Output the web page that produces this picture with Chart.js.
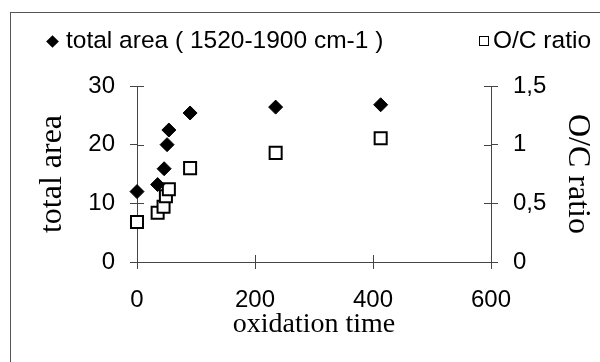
<!DOCTYPE html>
<html lang="en">
<head>
    <meta charset="UTF-8" />
    <title>Total area and O/C ratio vs oxidation time</title>
    <script src="https://cdn.jsdelivr.net/npm/chart.js@4.4.1/dist/chart.umd.min.js"></script>
    <style>
        html, body { margin: 0; padding: 0; background: #fff; }
        #wrap { position: relative; width: 600px; height: 362px; overflow: hidden; }
        #frame {
            position: absolute; left: 10px; top: 12px; right: -2px; bottom: -2px;
            border-left: 1px solid #555; border-top: 1px solid #555;
        }
        #legend {
            position: absolute; left: 0; top: 0; width: 600px; height: 60px;
            font-family: "Liberation Sans", Arial, sans-serif; font-size: 24px; color: #000;
        }
        .legend-text { position: absolute; top: 26px; line-height: 28px; white-space: nowrap; }
        .legend-mark { position: absolute; box-sizing: border-box; }
        #chartBox { position: absolute; left: 0; top: 0; width: 600px; height: 362px; }
    </style>
</head>
<body>
    <div id="wrap">
        <div id="frame"></div>
        <div id="chartBox"><canvas id="chart"></canvas></div>
        <div id="legend"></div>
    </div>
    <script>
        // vrijednosti ocitane sa slike
        const areaTimes = [0, 35, 46, 51, 54, 90, 235, 413];
        const areaValues = [12.0, 13.2, 15.9, 20.0, 22.5, 25.4, 26.4, 26.8];
        const ratioTimes = [0, 35, 45, 49, 54, 90, 235, 413];
        const ratioValues = [0.34, 0.42, 0.47, 0.56, 0.62, 0.80, 0.93, 1.055];

        const seriesLabels = ['total area ( 1520-1900 cm-1 )', 'O/C ratio'];
        const xTitle = 'oxidation time';
        const areaTitle = 'total area';
        const ratioTitle = 'O/C ratio';

        const xTickLabels = ['0', '200', '400', '600'];
        const areaTickLabels = ['0', '10', '20', '30'];
        const ratioTickLabels = ['0', '0,5', '1', '1,5'];

        const axisColor = '#444';
        const sansFont = '"Liberation Sans", Arial, sans-serif';
        const serifFont = '"Liberation Serif", "Times New Roman", serif';

        Chart.defaults.font.family = sansFont;
        Chart.defaults.color = '#000';

        // crtice s unutarnje strane osi (kao u Excelu, "cross")
        const innerTicks = {
            id: 'innerTicks',
            beforeDatasetsDraw(chart) {
                const ctx = chart.ctx;
                const a = chart.chartArea;
                const len = 7;
                ctx.save();
                ctx.strokeStyle = axisColor;
                ctx.lineWidth = 1;
                ctx.beginPath();
                const sx = chart.scales.x;
                sx.ticks.forEach((t, i) => {
                    const p = Math.round(sx.getPixelForTick(i)) + 0.5;
                    ctx.moveTo(p, a.bottom);
                    ctx.lineTo(p, a.bottom - len);
                });
                const sl = chart.scales.yArea;
                sl.ticks.forEach((t, i) => {
                    const p = Math.round(sl.getPixelForTick(i)) + 0.5;
                    ctx.moveTo(a.left, p);
                    ctx.lineTo(a.left + len, p);
                });
                const sr = chart.scales.yRatio;
                sr.ticks.forEach((t, i) => {
                    const p = Math.round(sr.getPixelForTick(i)) + 0.5;
                    ctx.moveTo(a.right, p);
                    ctx.lineTo(a.right - len, p);
                });
                ctx.stroke();
                ctx.restore();
            }
        };

        const toPoints = (xs, ys) => xs.map((x, i) => ({x: x, y: ys[i]}));

        const axisGrid = {
            display: true,
            drawOnChartArea: false,
            drawTicks: true,
            tickLength: 7,
            color: axisColor,
            lineWidth: 1
        };
        const axisBorder = { display: true, color: axisColor, width: 1 };

        const chart = new Chart(document.getElementById('chart'), {
            type: 'scatter',
            data: {
                datasets: [
                    {
                        label: seriesLabels[0],
                        data: toPoints(areaTimes, areaValues),
                        yAxisID: 'yArea',
                        pointStyle: 'rectRot',
                        pointRadius: 7,
                        backgroundColor: '#000',
                        borderColor: '#000',
                        borderWidth: 1,
                        clip: false
                    },
                    {
                        label: seriesLabels[1],
                        data: toPoints(ratioTimes, ratioValues),
                        yAxisID: 'yRatio',
                        pointStyle: 'rect',
                        pointRadius: 8.5,
                        backgroundColor: '#fff',
                        borderColor: '#000',
                        borderWidth: 2,
                        clip: false
                    }
                ]
            },
            options: {
                responsive: true,
                maintainAspectRatio: false,
                animation: false,
                events: [],
                layout: { padding: { top: 86, left: 0, right: 0, bottom: 0 } },
                plugins: {
                    legend: { display: false },
                    tooltip: { enabled: false }
                },
                scales: {
                    x: {
                        type: 'linear',
                        position: 'bottom',
                        min: 0, max: 600,
                        afterFit: s => { s.height = 100; },
                        grid: axisGrid,
                        border: axisBorder,
                        ticks: {
                            stepSize: 200,
                            padding: 17,
                            maxRotation: 0,
                            font: { size: 24 },
                            callback: (v, i) => xTickLabels[i]
                        },
                        title: {
                            display: true,
                            text: xTitle,
                            font: { family: serifFont, size: 28 },
                            padding: { top: 0, bottom: 21 }
                        }
                    },
                    yArea: {
                        type: 'linear',
                        position: 'left',
                        min: 0, max: 30,
                        afterFit: s => { s.width = 137; },
                        grid: axisGrid,
                        border: axisBorder,
                        ticks: {
                            stepSize: 10,
                            padding: 15,
                            font: { size: 24 },
                            callback: (v, i) => areaTickLabels[i]
                        },
                        title: {
                            display: true,
                            text: areaTitle,
                            font: { family: serifFont, size: 32 },
                            padding: { top: 33, bottom: 0 }
                        }
                    },
                    yRatio: {
                        type: 'linear',
                        position: 'right',
                        min: 0, max: 1.5,
                        afterFit: s => { s.width = 109; },
                        grid: axisGrid,
                        border: axisBorder,
                        ticks: {
                            stepSize: 0.5,
                            padding: 15,
                            font: { size: 24 },
                            callback: (v, i) => ratioTickLabels[i]
                        },
                        title: {
                            display: true,
                            text: ratioTitle,
                            font: { family: serifFont, size: 32 },
                            padding: { top: 3, bottom: 0 }
                        }
                    }
                }
            },
            plugins: [innerTicks]
        });

        // legenda u HTML-u (Chart.js legenda ne moze ovako razmaknuti stavke)
        const legendBox = document.getElementById('legend');
        const legendSpots = [
            { mark: 52, text: 66 },
            { mark: 484, text: 493 }
        ];
        chart.data.datasets.forEach((ds, i) => {
            const spot = legendSpots[i];
            const mark = document.createElement('div');
            mark.className = 'legend-mark';
            if (ds.pointStyle === 'rectRot') {
                mark.style.width = '9px';
                mark.style.height = '9px';
                mark.style.left = (spot.mark - 4.5) + 'px';
                mark.style.top = (41 - 4.5) + 'px';
                mark.style.background = ds.backgroundColor;
                mark.style.transform = 'rotate(45deg)';
            } else {
                mark.style.width = '10px';
                mark.style.height = '10px';
                mark.style.left = (spot.mark - 5) + 'px';
                mark.style.top = (41 - 5) + 'px';
                mark.style.background = ds.backgroundColor;
                mark.style.border = '1.5px solid ' + ds.borderColor;
            }
            legendBox.appendChild(mark);

            const txt = document.createElement('span');
            txt.className = 'legend-text';
            txt.style.left = spot.text + 'px';
            txt.style.fontSize = '24.5px';
            txt.textContent = ds.label;
            legendBox.appendChild(txt);
        });
    </script>
</body>
</html>
